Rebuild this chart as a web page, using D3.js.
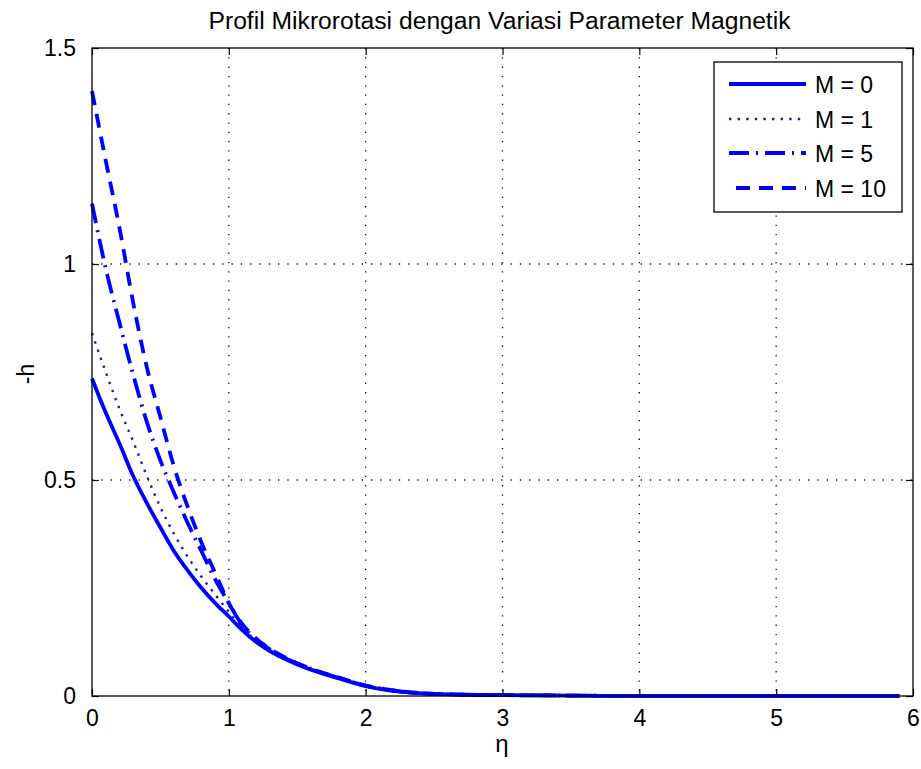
<!DOCTYPE html>
<html>
<head>
<meta charset="utf-8">
<script src="https://cdn.jsdelivr.net/npm/d3@7"></script>
<style>
  html, body { margin: 0; padding: 0; background: #fff; }
  svg { display: block; }
  text { font-family: "Liberation Sans", Arial, Helvetica, sans-serif; fill: #000; }
</style>
</head>
<body>
<svg id="chart" width="921" height="769"></svg>
<script>
// Microrotation profile -h(eta) for several magnetic parameters M
const eta = [0, 0.1, 0.2, 0.3, 0.4, 0.5, 0.6, 0.7, 0.8, 0.9, 1.0, 1.1, 1.2, 1.3, 1.4, 1.5, 1.6, 1.8, 2.0, 2.2, 2.5, 3.0, 3.5, 4.0, 5.0, 5.9];
const hM0  = [0.735, 0.656, 0.585, 0.510, 0.447, 0.390, 0.335, 0.290, 0.250, 0.215, 0.184, 0.152, 0.125, 0.104, 0.087, 0.073, 0.061, 0.041, 0.023, 0.012, 0.005, 0.002, 0.001, 0, 0, 0];
const hM1  = [0.840, 0.750, 0.665, 0.590, 0.510, 0.437, 0.375, 0.322, 0.276, 0.235, 0.195, 0.158, 0.128, 0.106, 0.088, 0.074, 0.062, 0.042, 0.023, 0.012, 0.005, 0.002, 0.001, 0, 0, 0];
const hM5  = [1.140, 0.990, 0.865, 0.745, 0.635, 0.545, 0.470, 0.400, 0.335, 0.270, 0.215, 0.163, 0.131, 0.108, 0.090, 0.075, 0.063, 0.042, 0.024, 0.013, 0.005, 0.002, 0.001, 0, 0, 0];
const hM10 = [1.400, 1.240, 1.085, 0.912, 0.762, 0.645, 0.530, 0.437, 0.355, 0.285, 0.215, 0.166, 0.133, 0.109, 0.091, 0.076, 0.063, 0.043, 0.024, 0.013, 0.005, 0.002, 0.001, 0, 0, 0];

const seriesNames = ["M = 0", "M = 1", "M = 5", "M = 10"];
const xTicks = [0, 1, 2, 3, 4, 5, 6];
const yTicks = [0, 0.5, 1, 1.5];

const styles = [
  { color: "#0000ff", width: 3.8, dash: null },
  { color: "#1c1ca6", width: 2.4, dash: "2.4,6.2" },
  { color: "#0000ff", width: 3.8, dash: "20,7,2,7" },
  { color: "#0000ff", width: 3.8, dash: "14,9" }
];
const seriesValues = [hM0, hM1, hM5, hM10];

const svg = d3.select("#chart");
const plotL = 92, plotR = 913, plotT = 48, plotB = 696;

const x = d3.scaleLinear().domain([0, 6]).range([plotL, plotR]);
const y = d3.scaleLinear().domain([0, 1.5]).range([plotB, plotT]);

// dotted grid
const grid = svg.append("g");
xTicks.slice(1, -1).forEach(t => {
  grid.append("line").attr("x1", x(t)).attr("x2", x(t)).attr("y1", plotT).attr("y2", plotB)
    .attr("stroke", "#111").attr("stroke-width", 1.3).attr("stroke-dasharray", "1.3,8");
});
yTicks.slice(1, -1).forEach(t => {
  grid.append("line").attr("x1", plotL).attr("x2", plotR).attr("y1", y(t)).attr("y2", y(t))
    .attr("stroke", "#111").attr("stroke-width", 1.3).attr("stroke-dasharray", "1.3,8");
});

// curves
const line = d3.line().x(d => x(d[0])).y(d => y(d[1])).curve(d3.curveMonotoneX);
seriesValues.forEach((vals, i) => {
  const s = styles[i];
  svg.append("path")
    .datum(eta.map((e, j) => [e, vals[j]]))
    .attr("d", line)
    .attr("fill", "none")
    .attr("stroke", s.color)
    .attr("stroke-width", s.width)
    .attr("stroke-dasharray", s.dash)
    .attr("stroke-linejoin", "round");
});

// axes with inward ticks on all four sides
const tickLen = 7;
const axB = d3.axisBottom(x).tickValues(xTicks).tickSizeInner(-tickLen).tickSizeOuter(0).tickPadding(14).tickFormat(d3.format("d"));
const axT = d3.axisTop(x).tickValues(xTicks).tickSizeInner(-tickLen).tickSizeOuter(0).tickFormat("");
const axL = d3.axisLeft(y).tickValues(yTicks).tickSizeInner(-tickLen).tickSizeOuter(0).tickPadding(16).tickFormat(d => String(d));
const axR = d3.axisRight(y).tickValues(yTicks).tickSizeInner(-tickLen).tickSizeOuter(0).tickFormat("");

function styleAxis(g) {
  g.select(".domain").remove();
  g.selectAll(".tick line").attr("stroke", "#000").attr("stroke-width", 1.2);
  g.selectAll(".tick text").attr("font-size", 23).attr("fill", "#000")
    .attr("font-family", "'Liberation Sans', Arial, sans-serif");
}
svg.append("g").attr("transform", `translate(0,${plotB})`).call(axB).call(styleAxis);
svg.append("g").attr("transform", `translate(0,${plotT})`).call(axT).call(styleAxis);
svg.append("g").attr("transform", `translate(${plotL},0)`).call(axL).call(styleAxis);
svg.append("g").attr("transform", `translate(${plotR},0)`).call(axR).call(styleAxis);

// box
svg.append("rect").attr("x", plotL).attr("y", plotT).attr("width", plotR - plotL).attr("height", plotB - plotT)
  .attr("fill", "none").attr("stroke", "#000").attr("stroke-width", 1.3);

// title and axis labels
svg.append("text").attr("x", (plotL + plotR) / 2 - 3).attr("y", 29).attr("text-anchor", "middle")
  .attr("font-size", 23).attr("textLength", 582).attr("lengthAdjust", "spacingAndGlyphs")
  .text("Profil Mikrorotasi dengan Variasi Parameter Magnetik");
svg.append("text").attr("x", 502).attr("y", 752).attr("text-anchor", "middle")
  .attr("font-size", 24).text("η");
svg.append("text").attr("transform", "translate(34,374) rotate(-90)").attr("text-anchor", "middle")
  .attr("font-size", 23).text("-h");

// legend
const lg = svg.append("g");
lg.append("rect").attr("x", 714).attr("y", 62).attr("width", 188).attr("height", 150)
  .attr("fill", "#fff").attr("stroke", "#000").attr("stroke-width", 1.3);
const rowY = [84, 119, 153, 188];
seriesNames.forEach((name, i) => {
  const s = styles[i];
  lg.append("line").attr("x1", i === 3 ? 736 : 729).attr("x2", 806)
    .attr("y1", rowY[i]).attr("y2", rowY[i])
    .attr("stroke", s.color).attr("stroke-width", s.width).attr("stroke-dasharray", s.dash);
  lg.append("text").attr("x", 815).attr("y", rowY[i] + 8.5).attr("font-size", 23).text(name);
});
</script>
</body>
</html>
